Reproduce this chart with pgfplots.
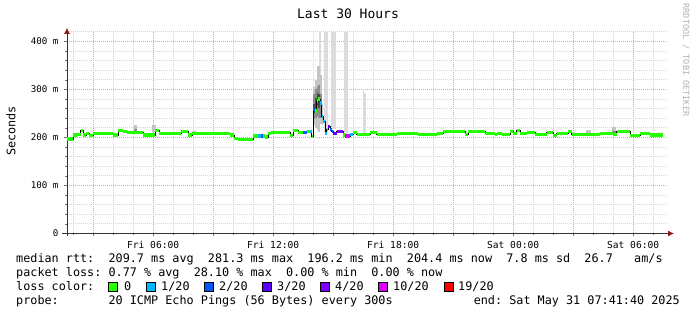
\documentclass[border=0pt]{standalone}
\usepackage{fontspec}
\setmainfont{DejaVu Sans Mono}
\usepackage{pgfplots}
\pgfplotsset{compat=1.18}
\usetikzlibrary{arrows.meta}
\definecolor{lc0}{HTML}{26FF00}
\definecolor{lc1}{HTML}{00B8FF}
\definecolor{lc2}{HTML}{0059FF}
\definecolor{lc3}{HTML}{5E00FF}
\definecolor{lc4}{HTML}{7E00FF}
\definecolor{lc10}{HTML}{DD00FF}
\definecolor{lc19}{HTML}{FF0000}
\definecolor{gridred}{HTML}{F09A9A}
\definecolor{gridgray}{HTML}{D4D4D4}
\definecolor{arrowred}{HTML}{8B1A1A}
\definecolor{lossbar}{HTML}{DCDCDC}
\definecolor{smokeA}{HTML}{C4C4C4}
\definecolor{smokeB}{HTML}{8C8C8C}
\definecolor{smokeC}{HTML}{484848}
\newcommand\legfont{\fontsize{11.8bp}{14bp}\selectfont}
\newcommand\rect[5]{\addplot[fill=#5,draw=none,forget plot] coordinates {(#1,#3) (#1,#4) (#2,#4) (#2,#3)};}
\newcommand\seg[4]{\addplot[#4,line width=3.2bp,forget plot] coordinates {(#1,#3) (#2,#3)};}
\frenchspacing
\begin{document}
\begin{tikzpicture}[x=1bp,y=1bp]
\path[use as bounding box] (0bp,0bp) rectangle (697bp,315bp);
\begin{axis}[
  at={(67bp,81.5bp)}, anchor=south west,
  scale only axis, width=600bp, height=201.6bp,
  xmin=1.694, xmax=31.694, ymin=0, ymax=420,
  axis lines=left,
  x axis line style={black!80, line width=0.8bp, shorten >=-7bp, shorten <=-5bp, -{Latex[length=6bp,width=6bp,color=arrowred]}},
  y axis line style={black!80, line width=0.8bp, shorten >=-4bp, shorten <=-3bp, -{Latex[length=6bp,width=6bp,color=arrowred]}},
  xtick={3,6,9,12,15,18,21,24,27,30},
  xticklabels={,Fri 06:00,,Fri 12:00,,Fri 18:00,,Sat 00:00,,Sat 06:00},
  minor xtick={2,4,5,7,8,10,11,13,14,16,17,19,20,22,23,25,26,28,29,31},
  ytick={0,100,200,300,400},
  yticklabels={0,100 m,200 m,300 m,400 m},
  minor ytick={20,40,60,80,120,140,160,180,220,240,260,280,320,340,360,380,420},
  grid=both,
  major grid style={color=gridred, dash pattern=on 1bp off 1bp, line width=0.8bp},
  minor grid style={color=gridgray, dash pattern=on 1bp off 1bp, line width=0.8bp},
  tick align=outside, major tick length=3bp, minor tick length=2bp,
  tick style={black!55, line width=0.6bp},
  xticklabel style={font=\fontsize{9.6bp}{11bp}\selectfont, yshift=-1bp},
  yticklabel style={font=\fontsize{9.2bp}{11bp}\selectfont, xshift=-2bp},
]
% loss bars
\rect{14.29}{14.39}{235}{420}{lossbar}
\rect{14.54}{14.73}{212}{420}{lossbar}
\rect{14.89}{15.13}{218}{420}{lossbar}
\rect{15.54}{15.73}{205}{420}{lossbar}
\rect{16.48}{16.56}{205}{300}{lossbar}
\rect{16.56}{16.64}{205}{292}{lossbar}
% smoke
\rect{5.05}{5.2}{210}{227}{smokeA}
\rect{5.05}{5.2}{210}{218}{smokeB}
\rect{5.95}{6.12}{212}{226}{smokeA}
\rect{7.95}{8.15}{208}{214}{smokeA}
\rect{27.63}{27.89}{208}{216}{smokeA}
\rect{28.93}{29.13}{208}{221}{smokeA}
\rect{28.93}{29.13}{208}{214}{smokeB}
\rect{14.01}{14.1}{225}{305}{smokeA}
\rect{14.1}{14.18}{220}{320}{smokeA}
\rect{14.18}{14.26}{215}{348}{smokeA}
\rect{14.26}{14.34}{212}{348}{smokeA}
\rect{14.34}{14.43}{228}{330}{smokeA}
\rect{14.43}{14.51}{225}{270}{smokeA}
\rect{14.01}{14.1}{238}{290}{smokeB}
\rect{14.1}{14.18}{240}{300}{smokeB}
\rect{14.18}{14.26}{245}{305}{smokeB}
\rect{14.26}{14.34}{240}{310}{smokeB}
\rect{14.34}{14.43}{240}{290}{smokeB}
\rect{14.01}{14.1}{250}{270}{smokeC}
\rect{14.1}{14.18}{255}{282}{smokeC}
\rect{14.18}{14.26}{265}{292}{smokeC}
\rect{14.26}{14.34}{262}{290}{smokeC}
% median thin line
\addplot[const plot, black, line width=0.8bp, forget plot] coordinates {
(1.69,197) (2.01,205) (2.2,207) (2.38,215) (2.5,205) (2.65,209) (2.8,204) (3.01,208)
(4.01,205) (4.26,215) (4.5,212) (4.7,210) (5.51,205) (6.09,214) (6.3,209) (7.4,213)
(7.75,205) (7.95,208) (9.85,205) (10.05,198) (10.25,195) (11.0,203) (11.6,201) (11.75,209)
(11.9,211) (12.84,204) (13.01,215) (13.26,211) (13.51,210) (13.68,213) (13.93,202)
(14.01,258) (14.1,255) (14.18,276) (14.26,280) (14.34,272) (14.43,244) (14.51,234)
(14.59,209) (14.68,216) (14.76,223) (14.84,216) (14.93,212) (15.01,209) (15.18,213)
(15.51,205) (15.59,203) (15.84,206) (16.01,210) (16.18,206) (16.84,211) (17.18,206)
(18.01,207) (18.18,209) (19.26,206) (20.18,209) (20.51,213) (21.59,206) (21.76,212)
(22.59,209) (23.09,206) (23.18,208) (23.43,206) (23.84,212) (24.01,209) (24.18,214)
(24.34,209) (24.68,211) (25.09,206) (25.68,210) (26.01,204) (26.18,209) (26.76,212)
(26.93,206) (27.68,207) (28.34,209) (29.01,206) (29.18,212) (29.84,204) (30.34,209)
(30.84,205) (31.51,205)};
% median thick (loss 0)
\addplot[jump mark left, lc0, line width=3.2bp, forget plot] coordinates {
(1.69,197) (2.01,205) (2.2,207) (2.38,215) (2.5,205) (2.65,209) (2.8,204) (3.01,208)
(4.01,205) (4.26,215) (4.5,212) (4.7,210) (5.51,205) (6.09,214) (6.3,209) (7.4,213)
(7.75,205) (7.95,208) (9.85,205) (10.05,198) (10.25,195) (11.0,203) (11.6,201) (11.75,209)
(11.9,211) (12.84,204) (13.01,215) (13.26,211) (13.51,210) (13.68,213) (13.93,202)
(14.01,258) (14.1,255) (14.18,276) (14.26,280) (14.34,272) (14.43,244) (14.51,234)
(14.59,209) (14.68,216) (14.76,223) (14.84,216) (14.93,212) (15.01,209) (15.18,213)
(15.51,205) (15.59,203) (15.84,206) (16.01,210) (16.18,206) (16.84,211) (17.18,206)
(18.01,207) (18.18,209) (19.26,206) (20.18,209) (20.51,213) (21.59,206) (21.76,212)
(22.59,209) (23.09,206) (23.18,208) (23.43,206) (23.84,212) (24.01,209) (24.18,214)
(24.34,209) (24.68,211) (25.09,206) (25.68,210) (26.01,204) (26.18,209) (26.76,212)
(26.93,206) (27.68,207) (28.34,209) (29.01,206) (29.18,212) (29.84,204) (30.34,209)
(30.84,205) (31.51,205)};
% loss-coloured segments
\seg{11.25}{11.4}{203}{lc1}
\seg{11.4}{11.5}{203}{lc2}
\seg{13.51}{13.68}{210}{lc2}
\seg{13.84}{13.93}{213}{lc1}
\seg{14.01}{14.1}{258}{lc2}
\seg{14.34}{14.43}{272}{lc1}
\seg{14.43}{14.51}{244}{lc1}
\seg{14.51}{14.59}{234}{lc1}
\seg{14.59}{14.68}{209}{lc1}
\seg{14.76}{14.84}{223}{lc3}
\seg{14.84}{14.93}{216}{lc2}
\seg{14.93}{15.01}{212}{lc2}
\seg{15.01}{15.18}{209}{lc3}
\seg{15.18}{15.51}{213}{lc4}
\seg{15.59}{15.84}{203}{lc10}
\seg{15.84}{16.01}{206}{lc1}
\end{axis}
% title and labels
\node[font=\fontsize{13bp}{15bp}\selectfont] at (348bp,301bp) {Last 30 Hours};
\node[font=\legfont, rotate=90] at (11bp,184bp) {Seconds};
\node[font=\fontsize{8.5bp}{10bp}\selectfont, rotate=-90, text=black!30] at (686bp,255bp) {RRDTOOL / TOBI OETIKER};
% legend
\begin{scope}[every node/.style={anchor=base west, inner sep=0pt, font=\legfont}]
\node at (16bp,52bp) {median rtt:~~209.7 ms avg~~281.3 ms max~~196.2 ms min~~204.4 ms now~~7.8 ms sd~~26.7~~~am/s};
\node at (16bp,38.5bp) {packet loss: 0.77 \% avg~~28.10 \% max~~0.00 \% min~~0.00 \% now};
\node at (16bp,24.5bp) {loss color:};
\node at (124bp,24.5bp) {0};
\node at (161bp,24.5bp) {1/20};
\node at (219bp,24.5bp) {2/20};
\node at (277bp,24.5bp) {3/20};
\node at (335bp,24.5bp) {4/20};
\node at (393bp,24.5bp) {10/20};
\node at (458bp,24.5bp) {19/20};
\node at (16bp,10.5bp) {probe:~~~~~~~20 ICMP Echo Pings (56 Bytes) every 300s};
\node[anchor=base east] at (680bp,10.5bp) {end: Sat May 31 07:41:40 2025};
\end{scope}
\foreach \xx/\cc in {108/lc0,146/lc1,204/lc2,262/lc3,320/lc4,378/lc10,444/lc19}{
  \draw[fill=\cc, draw=black, line width=0.8bp] (\xx bp,23.5bp) rectangle ++(9bp,9bp);
}
\end{tikzpicture}
\end{document}
